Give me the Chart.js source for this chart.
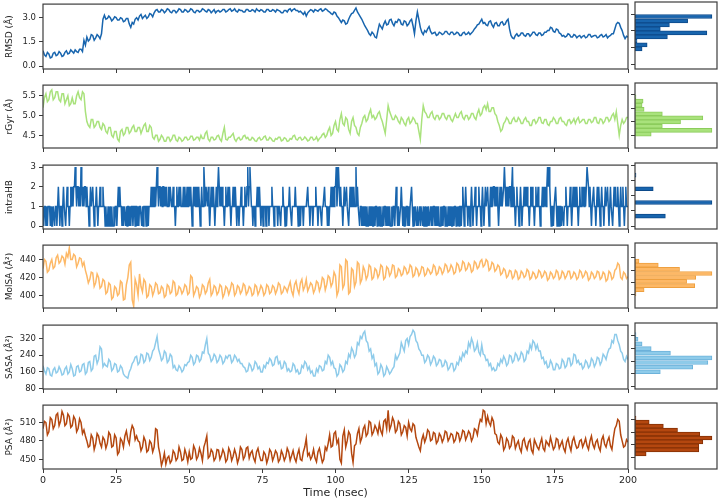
<!DOCTYPE html>
<html><head><meta charset="utf-8">
<script src="https://cdn.jsdelivr.net/npm/chart.js@4/dist/chart.umd.min.js"></script>
<style>
html,body{margin:0;padding:0;background:#fff;}
#wrap{position:relative;width:719px;height:501px;overflow:hidden;background:#fff;}
canvas{position:absolute;}
</style></head><body><div id="wrap"></div>
<script>
// ---------- DATA ----------
const timeTicks = [0,25,50,75,100,125,150,175,200];
const stepNs = 0.5;     // sampling of continuous series (ns)
const hbStepNs = 0.25;  // sampling of intraHB series (ns)

const rmsd = [0.95,0.7,0.6,0.85,0.75,0.5,0.55,0.8,0.85,0.65,0.7,0.9,0.8,0.6,0.65,0.85,0.95,0.75,0.8,1.0,
 0.9,0.8,1.0,0.9,0.85,1.05,1.05,0.9,1.6,1.3,1.8,1.55,1.65,1.95,1.9,1.6,1.75,1.95,1.85,1.7,
 2.0,2.9,3.15,2.9,2.95,3.1,3.0,2.8,2.9,3.05,3.0,2.85,2.85,3.0,2.95,2.75,2.8,2.95,2.95,2.6,
 2.4,2.7,2.6,2.9,3.0,2.85,3.1,3.2,2.95,3.05,3.15,2.95,3.05,3.25,3.2,3.05,3.3,3.45,3.5,3.35,
 3.35,3.5,3.45,3.3,3.4,3.55,3.5,3.35,3.3,3.45,3.45,3.3,3.4,3.55,3.5,3.35,3.35,3.5,3.45,3.35,
 3.4,3.55,3.5,3.35,3.3,3.45,3.45,3.35,3.4,3.55,3.5,3.4,3.35,3.5,3.45,3.3,3.4,3.5,3.3,3.4,
 3.45,3.35,3.4,3.5,3.5,3.35,3.4,3.5,3.55,3.4,3.45,3.55,3.4,3.35,3.5,3.45,3.45,3.35,3.35,3.5,
 3.5,3.4,3.4,3.5,3.45,3.35,3.55,3.45,3.4,3.5,3.45,3.35,3.35,3.5,3.5,3.4,3.4,3.5,3.45,3.35,
 3.5,3.45,3.4,3.3,3.3,3.45,3.45,3.35,3.5,3.55,3.4,3.5,3.55,3.45,3.45,3.35,3.4,3.3,3.2,3.35,
 3.1,3.3,3.4,3.5,3.45,3.35,3.5,3.45,3.4,3.5,3.55,3.4,3.45,3.55,3.5,3.4,3.35,3.25,3.2,3.35,
 3.3,3.1,3.0,2.85,2.7,2.85,2.8,2.6,2.65,2.9,3.1,3.25,3.3,3.45,3.6,3.35,3.2,3.05,2.9,2.7,
 2.5,2.35,2.2,2.0,1.9,2.1,2.0,1.8,1.75,2.2,2.6,2.45,2.3,2.6,2.8,2.55,2.6,2.85,2.9,2.65,
 2.5,2.75,2.7,2.9,2.85,2.6,2.55,2.8,2.75,2.5,2.6,2.8,2.9,2.5,2.0,2.8,3.35,2.9,2.4,2.1,
 1.95,2.2,2.1,2.3,2.45,2.15,2.0,2.05,2.1,1.9,1.95,2.1,2.05,1.95,2.0,2.15,2.15,2.0,1.95,2.1,
 2.1,1.95,2.0,2.1,2.05,1.9,1.9,2.05,2.1,1.95,2.0,2.1,1.95,2.05,2.15,2.3,2.4,2.55,2.6,2.75,
 2.9,2.65,2.7,2.55,2.5,2.75,2.8,2.55,2.4,2.65,2.7,2.5,2.5,2.7,2.75,2.55,2.6,2.8,2.9,2.3,
 1.9,1.75,1.7,1.9,2.0,1.85,1.9,2.05,2.05,1.9,1.85,2.0,2.0,1.85,1.95,2.1,2.1,1.95,1.9,2.05,
 2.05,1.9,1.95,2.1,2.1,2.2,2.2,2.4,2.35,2.15,2.1,2.3,2.25,2.05,2.0,1.85,1.9,1.8,1.85,2.0,
 1.95,1.8,1.8,1.95,1.9,1.75,1.85,1.9,1.75,1.85,1.9,1.75,1.8,1.95,1.95,1.8,1.85,1.9,1.9,1.75,
 1.8,1.9,1.95,1.8,1.85,1.95,1.75,1.85,1.9,2.0,2.0,2.3,2.6,2.7,2.65,2.4,2.2,1.9,1.7,1.85,
 1.8];
const rgyr = [5.2,5.45,5.55,5.35,5.4,5.6,5.65,5.4,5.45,5.6,5.6,5.4,5.35,5.55,5.55,5.3,5.4,5.5,5.25,5.3,
 5.45,5.3,5.3,5.5,5.6,5.45,5.4,5.6,5.55,5.1,4.85,4.75,4.7,4.9,4.9,4.7,4.75,4.85,4.85,4.7,
 4.65,4.8,4.75,4.6,4.55,4.7,4.7,4.5,4.45,4.6,4.6,4.4,4.35,4.6,4.65,4.5,4.55,4.7,4.7,4.55,
 4.6,4.7,4.75,4.6,4.6,4.7,4.7,4.55,4.65,4.75,4.8,4.6,4.6,4.75,4.7,4.45,4.4,4.5,4.5,4.35,
 4.4,4.5,4.45,4.35,4.35,4.45,4.45,4.35,4.4,4.5,4.5,4.38,4.35,4.45,4.42,4.35,4.38,4.45,4.45,4.38,
 4.4,4.48,4.48,4.38,4.4,4.45,4.45,4.38,4.5,4.42,4.42,4.55,4.6,4.4,4.35,4.45,4.45,4.38,4.4,4.48,
 4.5,4.4,4.35,4.55,4.7,4.4,4.38,4.45,4.45,4.5,4.55,4.4,4.35,4.42,4.45,4.38,4.4,4.48,4.5,4.42,
 4.45,4.38,4.38,4.45,4.42,4.36,4.35,4.42,4.45,4.38,4.4,4.46,4.48,4.38,4.38,4.45,4.42,4.36,4.35,4.42,
 4.4,4.45,4.45,4.36,4.38,4.44,4.42,4.35,4.36,4.42,4.4,4.48,4.5,4.4,4.38,4.44,4.45,4.38,4.4,4.46,
 4.42,4.36,4.38,4.45,4.45,4.38,4.4,4.46,4.36,4.42,4.45,4.52,4.55,4.45,4.5,4.62,4.7,4.5,4.55,4.75,
 4.85,4.65,4.6,4.9,5.05,4.8,4.75,4.95,4.9,4.65,4.55,4.85,4.95,4.75,4.7,4.55,4.5,4.7,4.8,4.95,
 5.0,4.85,4.9,5.05,5.15,4.95,5.0,4.9,4.95,5.05,5.1,4.95,4.85,4.7,4.55,4.9,5.25,5.1,5.0,4.9,
 4.9,5.0,4.95,4.85,4.8,4.95,4.9,4.8,4.75,4.9,4.95,4.8,4.85,4.95,4.9,4.8,4.8,4.6,4.4,4.9,
 5.25,5.1,5.05,4.95,4.95,5.05,5.1,4.95,4.9,5.0,5.0,4.9,4.95,5.05,5.05,4.95,4.9,5.0,5.0,4.9,
 4.85,4.95,5.05,4.95,4.95,5.05,5.1,4.95,4.9,5.0,5.0,4.9,4.95,5.05,5.05,4.95,4.9,5.05,5.15,5.0,
 5.05,5.2,5.25,5.15,5.3,5.1,5.1,5.2,5.2,5.05,5.0,4.85,4.75,4.6,4.65,4.8,4.85,4.95,4.9,4.8,
 4.8,4.9,4.95,4.85,4.85,4.95,4.9,4.8,4.8,4.9,4.95,4.85,4.85,4.75,4.75,4.88,4.9,4.8,4.85,4.95,
 4.95,4.82,4.8,4.9,4.9,4.78,4.75,4.85,4.85,4.95,4.9,4.8,4.8,4.92,4.95,4.85,4.85,4.78,4.75,4.88,
 4.9,4.8,4.85,4.92,4.8,4.9,4.95,4.82,4.85,4.9,4.9,4.8,4.8,4.9,4.9,4.82,4.85,4.95,4.95,4.82,
 4.8,4.92,4.9,4.8,4.85,4.95,4.95,4.85,4.9,5.0,5.05,4.9,5.1,4.8,4.5,4.75,4.9,4.8,4.85,4.95,
 4.95];
const intraHB = [1,0,1,1,0,1,0,1,1,1,0,1,0,0,1,1,0,1,1,0,1,2,1,0,1,1,0,1,2,1,1,0,1,2,1,1,0,1,2,1,
 2,1,2,2,3,2,1,2,2,1,2,1,3,2,1,2,1,2,2,1,2,1,1,0,1,2,1,1,2,1,0,1,1,2,1,0,1,1,2,1,
 1,1,2,1,1,0,1,0,0,1,0,0,1,0,1,0,0,1,0,1,1,0,1,2,1,2,1,1,0,1,0,1,1,0,1,0,1,1,0,1,
 0,1,1,0,1,1,0,1,1,0,1,0,1,1,1,0,1,0,1,1,1,0,1,1,0,1,1,1,2,1,1,2,1,2,1,2,3,2,1,2,
 2,1,2,1,2,2,1,2,1,2,1,1,2,1,2,2,1,1,2,1,1,0,1,2,1,1,2,1,2,1,1,1,2,1,2,1,1,2,1,1,
 2,1,2,1,0,1,2,1,2,1,1,2,1,2,1,0,1,2,1,1,3,2,1,2,2,1,2,1,0,1,2,1,1,2,1,0,1,2,1,2,
 3,2,1,2,1,2,1,1,0,1,2,1,1,2,1,2,1,0,1,1,2,1,1,2,1,0,1,1,0,1,1,2,1,1,0,1,2,1,1,2,
 3,1,2,3,2,1,1,0,1,1,0,1,1,2,1,1,2,1,0,1,1,0,1,1,1,0,1,1,1,0,1,1,1,2,1,1,0,1,1,1,
 1,0,1,1,1,0,1,1,2,1,1,0,1,0,1,1,1,2,1,1,0,1,1,1,1,2,1,1,1,0,1,1,0,1,1,1,0,1,1,1,
 1,1,2,1,1,0,1,1,1,0,1,1,1,2,1,1,0,1,1,1,1,0,1,1,1,2,1,1,1,0,1,0,1,1,2,1,1,2,1,2,
 2,3,1,2,3,2,1,2,1,1,0,1,2,1,1,2,1,1,0,1,2,1,1,2,1,2,1,1,3,1,2,1,1,0,1,1,0,1,0,1,
 0,1,0,1,0,0,1,0,1,0,1,0,0,1,0,1,1,0,1,0,1,0,1,0,0,1,0,1,1,0,1,0,1,0,1,0,0,1,0,1,
 1,0,1,2,1,0,1,0,0,1,2,1,0,1,0,1,0,1,1,0,1,0,1,1,2,1,0,1,0,1,1,0,1,0,0,1,0,1,1,0,
 1,0,0,1,0,1,0,1,0,0,1,0,1,0,1,1,0,1,0,1,0,1,0,0,1,0,1,0,1,1,0,1,0,0,1,0,1,0,1,0,
 0,1,0,1,1,0,1,0,1,0,1,1,0,1,2,1,0,1,2,1,1,0,1,1,0,1,2,1,0,1,1,2,1,0,1,1,2,1,1,0,
 1,2,1,0,1,2,1,1,2,1,0,1,2,1,2,1,2,2,1,2,1,2,1,0,1,2,1,2,1,1,2,3,2,1,2,1,2,1,2,2,
 1,2,3,1,2,1,0,1,2,1,1,0,1,2,1,0,1,1,2,1,2,1,2,1,1,0,1,2,1,2,1,1,0,1,2,1,1,2,1,1,
 0,1,1,2,1,2,1,2,1,2,3,2,3,2,1,0,1,1,0,1,1,2,1,0,1,1,0,1,1,0,1,1,0,1,1,2,1,0,1,1,
 1,2,1,0,1,2,1,1,2,1,2,1,0,1,2,1,1,2,1,2,1,2,1,2,3,3,2,1,2,1,0,1,1,2,1,1,0,1,2,1,
 2,1,0,1,2,1,1,0,1,2,1,1,2,1,0,1,2,1,1,0,1,2,1,2,1,1,2,1,0,1,2,1,1,2,1,0,1,2,1,1,
 1];
const molsa = [430,440,438,426,428,436,440,430,432,442,445,436,438,444,442,435,447,443,453,440,
 440,446,444,432,436,442,441,433,437,428,422,414,418,426,425,410,414,424,420,408,
 410,418,416,402,404,414,412,396,398,410,408,400,402,416,414,395,396,412,420,434,
 437,395,388,418,412,400,424,410,404,418,415,398,400,412,410,400,405,414,412,402,
 403,410,408,398,400,412,410,402,404,416,414,400,402,410,408,402,405,412,410,401,
 403,422,420,400,404,410,408,398,402,412,410,402,405,414,418,400,403,411,409,401,
 404,412,410,398,402,410,408,401,406,414,412,400,403,411,409,402,405,413,411,401,
 404,410,408,400,402,412,410,401,405,411,408,400,403,412,410,402,404,411,409,402,
 406,414,412,402,404,410,408,404,410,415,405,400,412,416,407,402,414,418,406,410,
 418,405,409,414,412,403,407,416,414,405,410,420,418,406,412,422,420,410,414,426,
 422,400,405,434,432,408,412,440,438,402,404,430,428,410,415,437,435,414,418,432,
 428,418,422,434,432,418,420,430,428,420,424,434,432,418,420,432,430,422,425,434,
 433,420,422,430,428,422,424,432,430,424,426,434,432,421,423,431,429,422,425,432,
 431,422,424,430,428,424,426,434,432,423,425,432,430,424,427,435,433,426,428,434,
 431,424,426,436,434,427,429,438,436,428,430,436,434,426,428,438,436,430,432,438,
 440,432,434,440,438,428,430,437,435,427,429,434,432,423,425,430,428,420,422,428,
 427,419,421,428,426,418,420,427,425,420,422,429,427,418,420,426,424,419,421,428,
 426,420,422,427,425,417,419,426,424,419,421,428,426,418,420,427,425,419,422,427,
 427,419,421,426,424,418,420,428,426,420,422,427,425,417,419,426,424,419,421,427,
 426,418,420,426,424,416,418,427,425,418,420,428,430,436,434,420,418,426,424,419,
 421];
const sasa = [190,165,150,180,175,145,140,170,180,155,160,185,170,145,150,175,185,150,160,195,
 175,140,145,185,190,160,165,195,200,150,160,205,210,165,175,235,240,200,220,280,
 270,185,200,190,185,220,210,165,175,200,195,160,165,190,180,150,140,135,130,160,
 175,200,210,230,235,195,205,245,240,205,215,250,245,215,230,260,270,300,330,270,
 245,215,225,260,250,205,215,245,235,180,190,170,165,190,180,160,170,195,190,205,
 210,240,230,195,205,240,235,210,220,255,250,290,320,250,240,210,220,245,235,205,
 215,240,230,200,210,235,225,240,240,205,215,240,230,210,220,200,200,185,180,160,
 165,200,190,165,175,210,200,175,185,160,160,190,180,205,200,225,215,190,195,230,
 235,200,210,175,180,210,200,165,175,160,165,200,190,160,170,150,155,190,180,210,
 200,170,185,155,165,140,140,175,160,190,185,165,170,210,200,240,230,195,210,180,
 175,140,150,195,185,160,170,210,200,245,230,275,260,230,245,300,290,330,320,345,
 355,310,300,260,270,225,240,190,200,150,160,195,180,140,150,185,170,150,160,175,
 185,240,220,235,250,300,280,260,310,320,290,330,340,360,350,310,300,270,260,240,
 240,205,215,240,230,195,210,235,225,190,200,220,215,185,190,215,205,170,180,200,
 200,165,175,205,195,230,215,250,235,260,250,300,280,320,300,260,270,300,255,240,
 290,245,240,215,220,190,200,170,180,165,170,200,190,220,205,235,220,190,200,240,
 235,205,215,250,240,215,225,255,245,210,220,260,250,290,270,310,300,270,290,260,
 260,225,230,200,210,180,185,215,200,170,170,200,195,175,180,220,210,180,190,225,
 225,190,200,245,240,205,215,195,200,175,185,215,205,180,190,225,215,185,200,230,
 225,195,210,245,235,220,250,270,275,310,300,340,340,310,290,260,250,220,210,235,
 220];
const psa = [500,512,510,490,495,518,515,500,505,522,525,505,512,528,522,505,508,524,520,502,
 505,520,515,495,500,516,510,492,498,488,480,470,472,490,485,466,475,492,488,476,
 470,486,482,468,476,494,490,470,472,490,485,458,462,484,480,470,488,496,482,475,
 495,505,500,482,488,480,478,464,470,486,480,462,465,480,476,462,470,500,498,470,
 458,440,448,460,442,452,455,444,448,464,460,448,452,470,462,448,450,466,458,446,
 462,450,452,472,466,450,455,468,460,448,470,478,488,452,455,466,462,448,452,466,
 465,450,456,466,460,446,450,468,462,448,455,466,458,444,452,470,466,450,455,468,
 470,452,460,464,452,446,462,468,456,448,448,462,458,444,452,466,462,448,455,464,
 460,446,450,464,458,448,454,468,462,448,456,464,452,446,458,466,450,448,462,470,
 484,456,460,450,455,466,452,446,462,468,456,445,450,470,465,476,490,470,472,492,
 495,476,482,450,444,488,498,470,480,495,490,460,445,472,475,492,500,478,485,500,
 505,488,492,512,510,490,495,505,500,492,508,496,490,512,515,500,530,498,505,518,
 512,494,498,512,508,490,495,505,502,488,510,500,496,508,505,486,478,470,464,482,
 490,478,485,498,495,480,482,494,492,476,480,492,488,478,484,496,494,480,485,492,
 490,478,482,494,492,480,486,497,495,482,488,496,492,480,486,500,498,490,505,515,
 512,530,528,508,520,510,505,518,512,492,490,478,475,490,485,465,470,484,480,468,
 472,488,485,468,475,480,468,462,480,484,472,466,478,482,465,460,482,476,470,466,
 476,484,468,464,480,476,472,486,476,466,470,484,482,468,474,480,468,462,478,484,
 472,464,480,486,475,468,470,480,482,470,476,484,472,466,480,488,474,468,478,482,
 470,464,482,488,475,470,480,486,472,466,485,500,505,515,512,490,480,470,472,482,
 478];

// y tick labels per panel
const rmsdTicks = [0, 1.5, 3.0];
const rgyrTicks = [4.5, 5.0, 5.5];
const hbTicks = [0, 1, 2, 3];
const molsaTicks = [400, 420, 440];
const sasaTicks = [80, 160, 240, 320];
const psaTicks = [450, 480, 510];

// histogram bins (centres) and counts
const rmsdBins = [3.54,3.14,2.78,2.42,2.06,1.70,1.34,0.98,0.62];
const rmsdCounts = [76,52,34,25,71,32,2,12,7];
const rgyrBins = [5.66,5.50,5.35,5.20,5.04,4.89,4.74,4.58,4.43,4.29];
const rgyrCounts = [1,8,7,9,27,67,45,27,76,16];
const hbBins = [2.85,1.95,1.05,0.15];
const hbCounts = [1,18,76,30];
const molsaBins = [444.5,437.9,431.0,424.4,417.8,411.5,404.6,398.0,391.4];
const molsaCounts = [4,23,44,76,60,51,59,9,1];
const sasaBins = [364,335,306,277,249,220,191,162,134];
const sasaCounts = [1,3,7,16,35,76,72,57,25];
const psaBins = [528.6,519.2,509.8,500.4,491.0,481.6,472.2,462.8,453.4,444.0];
const psaCounts = [1,14,28,42,64,76,67,63,63,11];

// ---------- CHARTS ----------
const FONT = "'DejaVu Sans', sans-serif";
const TXT = '#262626';
const AX = '#3c3c3c';
const wrap = document.getElementById('wrap');

const frame = {id:'frame', afterDatasetsDraw(c){
  const a = c.chartArea, ctx = c.ctx;
  ctx.save(); ctx.strokeStyle = AX; ctx.lineWidth = 1.2;
  ctx.strokeRect(a.left, a.top, a.right - a.left, a.bottom - a.top);
  ctx.restore();
}};

const panels = [
  {title:'RMSD (Å)', series:rmsd, step:stepNs, color:'#1865ae', edge:'#0c4a8a', min:-0.18, max:3.84, ticks:rmsdTicks, dec:1, bins:rmsdBins, counts:rmsdCounts},
  {title:'rGyr (Å)', series:rgyr, step:stepNs, color:'#a9e27c', edge:'#8ccc5c', min:4.18, max:5.77, ticks:rgyrTicks, dec:1, bins:rgyrBins, counts:rgyrCounts},
  {title:'intraHB', series:intraHB, step:hbStepNs, color:'#1865ae', edge:'#0c4a8a', min:-0.15, max:3.1, ticks:hbTicks, dec:0, bins:hbBins, counts:hbCounts},
  {title:'MolSA (Å²)', series:molsa, step:stepNs, color:'#fdb866', edge:'#eea040', min:386, max:456.2, ticks:molsaTicks, dec:0, bins:molsaBins, counts:molsaCounts},
  {title:'SASA (Å²)', series:sasa, step:stepNs, color:'#8ecbea', edge:'#6cb2da', min:78, max:384.6, ticks:sasaTicks, dec:0, bins:sasaBins, counts:sasaCounts},
  {title:'PSA (Å²)', series:psa, step:stepNs, color:'#b4470f', edge:'#863006', min:434.2, max:538.4, ticks:psaTicks, dec:0, bins:psaBins, counts:psaCounts}
];
const geom = [{top:2,h:67},{top:83,h:65},{top:163,h:66},{top:243,h:65},{top:323,h:66},{top:403,h:66}];

function mk(l,t,w,h){
  const c = document.createElement('canvas');
  c.width = w; c.height = h;
  c.style.left = l+'px'; c.style.top = t+'px';
  c.style.width = w+'px'; c.style.height = h+'px';
  wrap.appendChild(c); return c;
}

panels.forEach((p,i)=>{
  const g = geom[i];
  const last = i === panels.length - 1;
  const PT = 6, bottom = last ? 32 : 10;
  const H = PT + g.h + bottom;
  const tickGrid = {display:true, drawOnChartArea:false, drawTicks:true, tickLength:4, color:AX, lineWidth:1};

  new Chart(mk(0, g.top-PT, 648, H), {
    type:'line',
    data:{datasets:[{data:p.series.map((v,k)=>({x:k*p.step, y:v})), borderColor:p.color, borderWidth:1.5,
      pointRadius:0, tension:0, fill:false}]},
    options:{responsive:false, animation:false, devicePixelRatio:1,
      layout:{padding:{top:PT,left:0,right:20,bottom:0}},
      plugins:{legend:{display:false}, tooltip:{enabled:false}},
      scales:{
        x:{type:'linear', min:0, max:200,
           afterBuildTicks:s=>{s.ticks = timeTicks.map(v=>({value:v}));},
           afterFit:s=>{s.height = bottom;},
           grid:tickGrid, border:{display:false},
           ticks:{display:last, font:{family:FONT,size:9.5}, color:TXT, padding:2, maxRotation:0, autoSkip:false},
           title:{display:last, text:'Time (nsec)', font:{family:FONT,size:11}, color:TXT, padding:{top:0,bottom:1}}},
        y:{type:'linear', min:p.min, max:p.max,
           afterBuildTicks:s=>{s.ticks = p.ticks.map(v=>({value:v}));},
           afterFit:s=>{s.width = 43;},
           grid:tickGrid, border:{display:false},
           ticks:{font:{family:FONT,size:8.5}, color:TXT, padding:3, callback:v=>Number(v).toFixed(p.dec)},
           title:{display:true, text:p.title, font:{family:FONT,size:9}, color:TXT, padding:{top:4,bottom:0}}}
      }},
    plugins:[frame]
  });

  new Chart(mk(625, g.top-PT, 94, H), {
    type:'bar',
    data:{datasets:[{data:p.bins.map((b,k)=>({x:p.counts[k], y:b})), backgroundColor:p.color, borderColor:p.edge,
      borderWidth:1, borderSkipped:false, barThickness:4}]},
    options:{indexAxis:'y', responsive:false, animation:false, devicePixelRatio:1,
      layout:{padding:{top:PT,left:0,right:2,bottom:0}},
      plugins:{legend:{display:false}, tooltip:{enabled:false}},
      scales:{
        x:{type:'linear', min:0, max:81, ticks:{display:false}, grid:{display:false}, border:{display:false},
           afterFit:s=>{s.height = bottom;}},
        y:{type:'linear', min:p.min, max:p.max,
           afterBuildTicks:s=>{s.ticks = p.ticks.map(v=>({value:v}));},
           afterFit:s=>{s.width = 10;},
           ticks:{display:false}, grid:tickGrid, border:{display:false}}
      }},
    plugins:[frame]
  });
});
</script>
</body></html>
